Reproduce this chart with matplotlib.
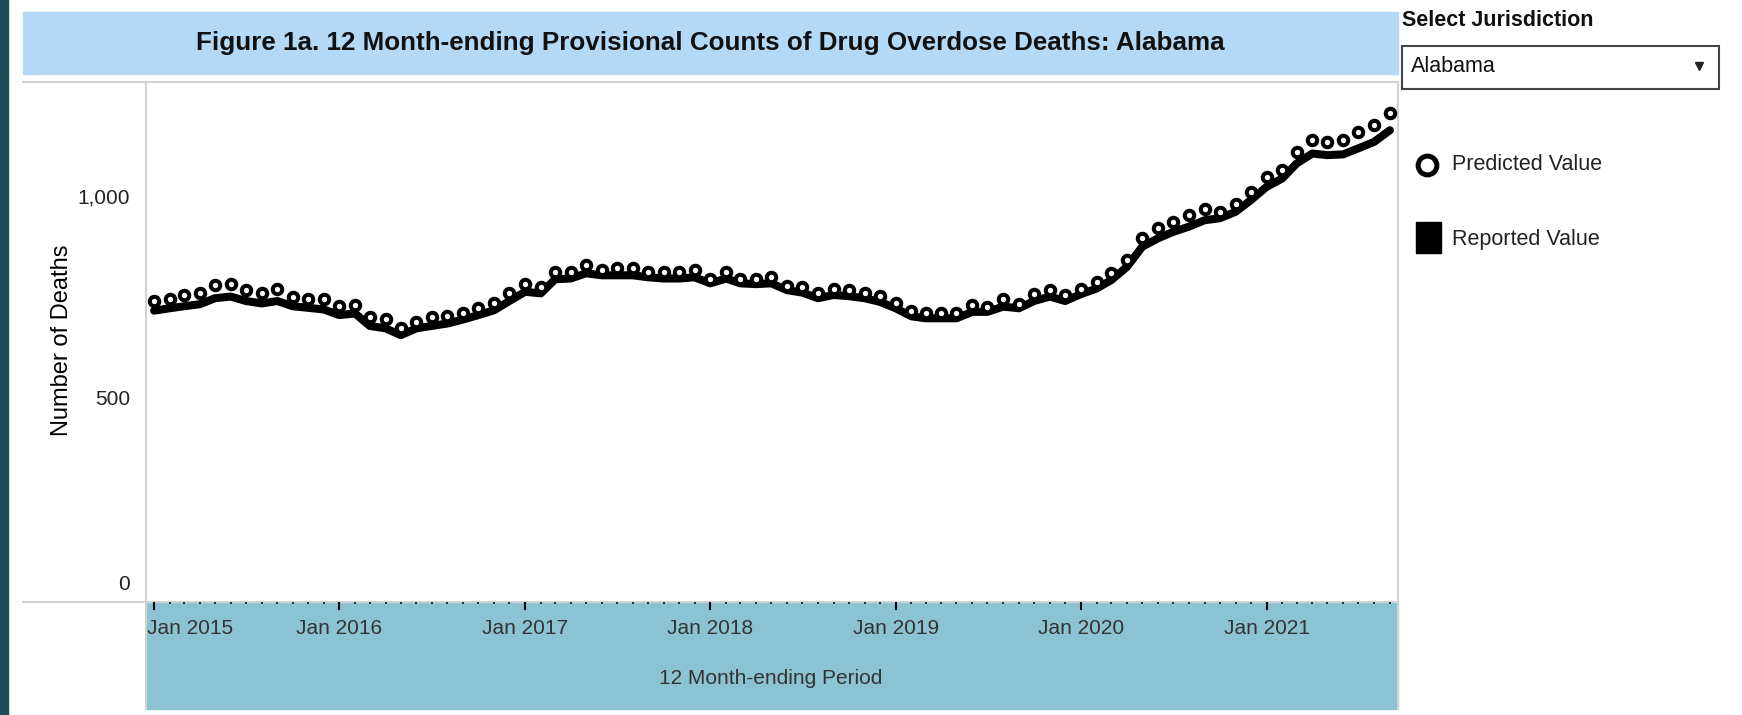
import numpy as np
import pandas as pd
import matplotlib
matplotlib.use('Agg')
import matplotlib.pyplot as plt
from matplotlib.patches import Rectangle
from matplotlib.lines import Line2D
from matplotlib.transforms import ScaledTranslation

plt.rcParams['font.family'] = ['Liberation Sans', 'DejaVu Sans']

# 12 month-ending periods, Jan 2015 .. Sep 2021
periods = pd.date_range('2015-01-01', '2021-09-01', freq='MS')

predicted = [739, 745, 754, 760, 779, 781, 766, 758, 769, 749, 745, 743,
             726, 729, 700, 693, 671, 687, 698, 701, 710, 722, 735, 758,
             781, 774, 812, 812, 828, 817, 822, 820, 812, 812, 812, 817,
             793, 812, 795, 795, 799, 776, 773, 760, 770, 766, 758, 751,
             735, 715, 710, 710, 710, 729, 725, 743, 731, 756, 766, 754,
             769, 787, 808, 841, 895, 920, 936, 953, 969, 961, 980, 1011,
             1048, 1065, 1110, 1139, 1135, 1139, 1160, 1177, 1208]

reported = [715, 721, 726, 731, 746, 750, 739, 733, 739, 726, 722, 718,
            704, 708, 677, 671, 654, 671, 677, 683, 693, 704, 716, 739,
            762, 758, 793, 795, 808, 803, 803, 803, 798, 795, 795, 798,
            783, 795, 783, 781, 783, 766, 760, 746, 754, 751, 746, 737,
            721, 701, 696, 696, 696, 712, 712, 725, 721, 739, 750, 739,
            756, 770, 791, 824, 874, 895, 911, 924, 940, 945, 961, 990,
            1023, 1044, 1081, 1106, 1102, 1104, 1119, 1135, 1164]

y_ticks = [0, 500, 1000]
y_tick_labels = ['0', '500', '1,000']
year_ticks = pd.date_range('2015-01-01', '2021-01-01', freq='YS')
year_labels = [d.strftime('%b %Y') for d in year_ticks]

W, H = 1742, 715
fig = plt.figure(figsize=(W / 100, H / 100), dpi=100)
fig.patch.set_facecolor('white')


def fx(x):
    return x / W


def fy(y):
    return 1 - y / H


def box(x0, y0, x1, y1, z=-2, **kw):
    fig.add_artist(Rectangle((fx(x0), fy(y1)), (x1 - x0) / W, (y1 - y0) / H,
                             transform=fig.transFigure, zorder=z, **kw))


def seg(x0, y0, x1, y1, color='#d3d3d3', lw=1.5):
    fig.add_artist(Line2D([fx(x0), fx(x1)], [fy(y0), fy(y1)], color=color, lw=lw,
                          transform=fig.transFigure, zorder=-1))


# background pieces
box(0, 0, 8, 715, color='#1e4d58')
box(23, 12, 1398, 74, color='#b3d9f6')
box(146, 602, 1398, 709, color='#8cc3d3')
seg(23, 82, 1398, 82)
seg(23, 602, 1398, 602)
seg(146, 82, 146, 709)
seg(1398, 82, 1398, 709)

fig.text(fx(710), fy(43), 'Figure 1a. 12 Month-ending Provisional Counts of Drug Overdose Deaths: Alabama',
         ha='center', va='center', fontsize=18.7, fontweight='bold', color='#111111')

# main chart
ax = fig.add_axes([fx(146), fy(602), (1398 - 146) / W, (602 - 82) / H])
ax.set_facecolor('none')
for s in ax.spines.values():
    s.set_visible(False)

ax.plot(periods, reported, color='black', lw=5.8, solid_capstyle='round',
        solid_joinstyle='round', zorder=2)
ax.plot(periods, predicted, ls='none', marker='o', ms=6.8, mfc='white', mec='black', mew=2.9, zorder=3)

ax.set_ylim(-10, 1284)
ax.set_xlim(pd.Timestamp('2014-12-16'), pd.Timestamp('2021-09-17'))

ax.set_yticks(y_ticks)
ax.set_yticklabels(y_tick_labels)
ax.tick_params(axis='y', length=0, pad=11.5, labelsize=15, labelcolor='#222222')

ax.set_xticks(year_ticks)
ax.set_xticklabels(year_labels)
ax.set_xticks(periods, minor=True)
ax.tick_params(axis='x', which='major', length=5.5, width=1.5, color='black', pad=7,
               labelsize=15, labelcolor='#333333')
ax.tick_params(axis='x', which='minor', length=1.3, width=1.3, color='#222222')

# Tableau keeps edge labels inside the pane
t0 = ax.yaxis.get_major_ticks()[0].label1
t0.set_transform(t0.get_transform() + ScaledTranslation(0, 15 / 100, fig.dpi_scale_trans))
x0 = ax.xaxis.get_major_ticks()[0].label1
x0.set_horizontalalignment('left')
x0.set_transform(x0.get_transform() + ScaledTranslation(-7 / 100, 0, fig.dpi_scale_trans))

fig.text(fx(62), fy(340), 'Number of Deaths', rotation=90, ha='center', va='center',
         fontsize=17, color='black')
fig.text(fx(771), fy(678), '12 Month-ending Period', ha='center', va='center',
         fontsize=15, color='#333333')

# right panel: filter and legend
fig.text(fx(1402), fy(20), 'Select Jurisdiction', ha='left', va='center',
         fontsize=15.5, fontweight='bold', color='#111111')
box(1402, 46, 1719, 89, z=1, facecolor='white', edgecolor='#444444', lw=1.5)
fig.text(fx(1411), fy(66), 'Alabama', ha='left', va='center', fontsize=15.5, color='#111111')
fig.add_artist(Line2D([fx(1699)], [fy(66)], marker='v', ms=6, color='#222222',
                      transform=fig.transFigure, zorder=2))

fig.add_artist(Line2D([fx(1427)], [fy(165)], marker='o', ms=13.5, mfc='white', mec='black',
                      mew=3.6, transform=fig.transFigure))
fig.text(fx(1452), fy(165), 'Predicted Value', ha='left', va='center', fontsize=15.5, color='#222222')
box(1416, 222, 1441, 253, z=1, color='black')
fig.text(fx(1452), fy(240), 'Reported Value', ha='left', va='center', fontsize=15.5, color='#222222')

fig.savefig('out.png', dpi=100)
